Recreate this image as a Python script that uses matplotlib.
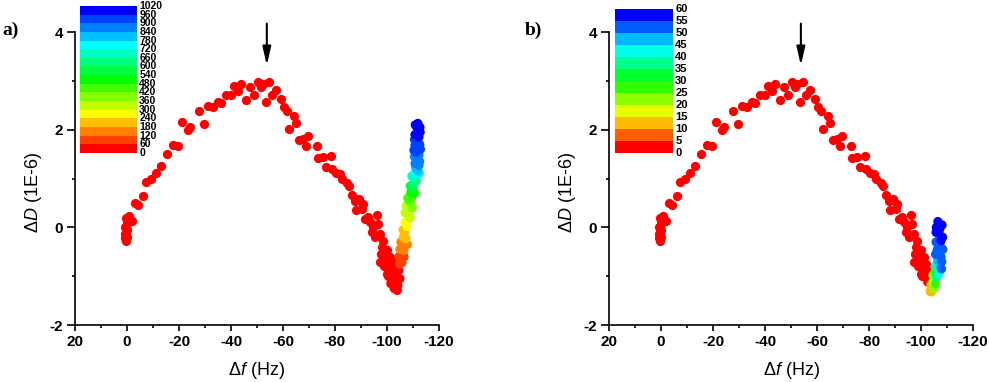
"""
Dissipation versus frequency shift, two panels with a time colour scale.
Red points are the early part of the run, the coloured branch is the later part.
"""

import numpy as np
import matplotlib
matplotlib.use('Agg')
import matplotlib.pyplot as plt
from matplotlib.colors import ListedColormap, BoundaryNorm, hsv_to_rgb
from matplotlib.ticker import MultipleLocator

# Early part of the curve, same in both panels (drawn red)
ARC_DF = [0.4, 0.6, 0.12, 0.77, 0.3, 0.12, 0.5, 0.77, -0.12, 0.12, -1.9, -0.65, 0.2,
          -3.1, -4.2, -6.15, -7.3, -9.35, -11.15, -13.1, -15.3, -17.6, -19.5, -21.0,
          -23.6, -24.2, -27.7, -29.7, -31.3, -33.0, -35.1, -36.0, -38.0, -39.9, -41.3,
          -42.8, -43.8, -45.8, -47.3, -48.8, -50.3, -51.5, -52.4, -53.6, -54.6,
          -55.8, -57.2, -59.2, -60.5, -61.4, -62.3, -64.3, -65.1, -66.2, -67.8, -68.8,
          -69.5, -73.0, -73.3, -75.3, -76.7, -78.3, -78.8, -80.4, -81.9, -82.8, -84.5,
          -85.3, -86.7, -87.6, -88.2, -89.4, -90.3, -90.9, -91.5, -92.8, -93.5, -94.1,
          -94.7, -96.0, -96.7, -97.3, -98.0, -98.6, -99.2, -99.9, -99.9, -100.5, -101.2,
          -101.8, -102.4, -95.5, -97.8, -100.8, -102.0, -99.0, -97.5, -100.5]
ARC_DD = [-0.27, -0.22, -0.2, -0.13, -0.1, -0.06, 0.0, 0.01, 0.08, 0.14, 0.14, 0.23, 0.2,
          0.51, 0.45, 0.64, 0.94, 1.0, 1.12, 1.25, 1.5, 1.69, 1.67, 2.16,
          2.0, 2.05, 2.38, 2.11, 2.48, 2.46, 2.56, 2.54, 2.71, 2.72, 2.89,
          2.80, 2.93, 2.61, 2.87, 2.72, 2.97, 2.88, 2.93, 2.56, 2.97,
          2.71, 2.81, 2.62, 2.47, 2.38, 2.02, 2.28, 2.13, 1.78, 1.81, 1.66,
          1.87, 1.67, 1.43, 1.44, 1.24, 1.46, 1.2, 1.11, 1.09, 0.99, 0.91,
          0.85, 0.66, 0.55, 0.35, 0.59, 0.38, 0.47, 0.18, 0.21, 0.11, -0.10,
          0.01, 0.26, 0.08, -0.13, -0.40, -0.27, -0.61, -0.47, -0.95, -0.81, -0.61,
          -1.02, -0.88, -0.2, -0.55, -0.72, -0.75, -0.8, -0.7, -1.0]

# Panel a: later branch, time 0-1020
A_DF = [-103.1, -103.7, -104.0, -102.6, -103.3, -104.3, -104.0, -103.0, -104.2, -105.0,
        -104.6, -102.8, -101.5,
        -105.8, -105.4, -106.5, -106.2, -107.3, -106.9, -107.7, -108.1, -108.5, -108.8,
        -109.2, -109.6, -109.2, -110.0, -110.4, -110.0, -110.8, -111.2, -110.8, -111.5,
        -111.2, -111.9, -111.5, -112.3, -111.9, -111.5, -111.9, -110.8, -112.3, -110.4,
        -112.3, -104.6, -105.4, -106.2, -107.0, -108.0, -112.5, -112.6, -110.8,
        -112.6, -110.6, -112.8, -110.9, -112.7, -110.6, -112.9, -111.0, -112.0,
        -108.6, -110.6, -109.0, -111.3, -109.6, -107.0, -108.9, -106.3, -107.8, -105.0,
        -106.6, -104.8, -107.5, -109.8]
A_DD = [-1.22, -1.09, -1.29, -1.12, -0.95, -1.05, -0.80, -0.70, -1.19, -1.05,
        -0.88, -1.25, -1.15,
        -0.72, -0.57, -0.47, -0.33, -0.23, -0.10, 0.02, 0.14, 0.27, 0.39,
        0.49, 0.62, 0.72, 0.82, 0.92, 1.03, 1.11, 1.21, 1.31, 1.42,
        1.54, 1.64, 1.74, 1.85, 1.95, 2.05, 2.13, 1.68, 1.48, 1.58,
        1.27, -0.6, -0.3, -0.05, 0.3, 0.6, 1.1, 1.7, 1.9,
        1.35, 1.45, 1.95, 2.1, 2.05, 1.8, 1.6, 1.25, 1.15,
        0.55, 0.7, 0.85, 0.95, 1.05, 0.1, 0.2, -0.2, -0.35, -0.45,
        -0.6, -0.75, 0.45, 0.4]
A_TIME = [15, 20, 25, 10, 15, 30, 40, 35, 30, 50,
          58, 20, 10,
          90, 110, 130, 160, 190, 220, 250, 280, 310, 350,
          400, 450, 500, 560, 620, 680, 740, 800, 850, 880,
          900, 920, 940, 960, 975, 990, 1005, 930, 890, 910,
          860, 100, 170, 230, 320, 430, 760, 945, 970,
          870, 895, 980, 1000, 995, 950, 925, 830, 790,
          420, 520, 580, 640, 700, 265, 300, 200, 175, 120,
          95, 75, 340, 370]

# Panel b: later branch, time 0-60
B_DF = [-102.6, -103.3, -102.0,
        -103.5, -104.2, -103.8, -104.6, -105.0, -104.6, -105.4, -105.4, -105.8, -105.4,
        -106.2, -106.2, -106.5, -106.2, -106.9, -106.5, -107.3, -106.9, -107.3, -106.9,
        -107.3, -106.9, -106.5, -107.7, -106.2, -107.7, -107.3, -105.8, -105.8,
        -108.3, -108.1, -105.9, -108.4, -105.6, -108.0, -107.9, -106.9, -106.0, -105.5,
        -104.0, -105.0, -107.3]
B_DD = [-1.12, -0.95, -1.0,
        -1.31, -1.23, -1.17, -1.11, -1.05, -0.98, -0.98, -0.92, -0.86, -0.80,
        -0.80, -0.74, -0.68, -0.59, -0.51, -0.43, -0.35, -0.27, -0.18, -0.10,
        -0.02, 0.06, 0.12, -0.27, -0.47, -0.6, 0.0, -0.3, -0.1,
        -0.2, 0.05, 0.0, -0.45, -0.55, -0.7, -0.85, -0.95, -1.02, -1.15,
        -1.32, -1.25, -0.78]
B_TIME = [3, 4, 4,
          11, 13, 14, 17, 19, 22, 24, 27, 31, 36,
          39, 42, 45, 47, 49, 51, 52, 53, 54, 55,
          56, 58, 59, 55, 50, 53, 57, 52, 57,
          56, 58, 57, 54, 51, 52, 50, 44, 38, 28,
          12, 20, 48]

A_LEVELS = [0, 60, 120, 180, 240, 300, 360, 420, 480, 540, 600, 660, 720, 780, 840,
            900, 960, 1020]
B_LEVELS = [0, 5, 10, 15, 20, 25, 30, 35, 40, 45, 50, 55, 60]

X_TICKS = [20, 0, -20, -40, -60, -80, -100, -120]
Y_TICKS = [-2, 0, 2, 4]

# Arrow marking the top of the arc
ARROW_DF = -53.8
ARROW_TOP = 4.23
ARROW_TIP = 3.26

plt.rcParams['font.family'] = 'Liberation Sans'
plt.rcParams['font.weight'] = 'bold'
plt.rcParams['axes.unicode_minus'] = False
plt.rcParams['mathtext.fontset'] = 'custom'
plt.rcParams['mathtext.rm'] = 'Liberation Sans:weight=normal'
plt.rcParams['mathtext.it'] = 'Liberation Sans:style=italic:weight=normal'
plt.rcParams['mathtext.bf'] = 'Liberation Sans:weight=normal'


def band_colours(n):
    """Rainbow bands from red to blue, like the Origin colour map."""
    hsv = [[0.6667 * i / (n - 1), 1.0, 1.0] for i in range(n)]
    return hsv_to_rgb(np.array(hsv))


def draw_panel(fig, rect, bar_rect, df, dd, time, levels, letter, letter_x, bar_size):
    cmap = ListedColormap(band_colours(len(levels) - 1))
    norm = BoundaryNorm(levels, cmap.N)

    ax = fig.add_axes(rect)
    ax.scatter(ARC_DF, ARC_DD, s=44, color=cmap(0), linewidths=0, zorder=2)

    # Draw later points on top
    df, dd, time = np.array(df), np.array(dd), np.array(time)
    order = np.argsort(time)
    ax.scatter(df[order], dd[order], c=time[order], cmap=cmap, norm=norm,
               s=44, linewidths=0, zorder=3)

    ax.annotate('', xy=(ARROW_DF, ARROW_TIP), xytext=(ARROW_DF, ARROW_TOP),
                arrowprops=dict(arrowstyle='-|>,head_width=0.25,head_length=1.1',
                                color='black', lw=1.5, mutation_scale=10),
                annotation_clip=False)

    ax.set_xlim(20, -120)
    ax.set_ylim(-2, 4)
    ax.set_xticks(X_TICKS)
    ax.set_yticks(Y_TICKS)
    ax.xaxis.set_minor_locator(MultipleLocator(10))
    ax.yaxis.set_minor_locator(MultipleLocator(1))
    ax.spines['top'].set_visible(False)
    ax.spines['right'].set_visible(False)
    for side in ['left', 'bottom']:
        ax.spines[side].set_linewidth(1.2)
    ax.tick_params(axis='x', which='major', direction='out', length=4, width=1.2, pad=3,
                   labelsize=11)
    ax.tick_params(axis='y', which='major', direction='out', length=5.5, width=1.2, pad=3,
                   labelsize=11)
    ax.tick_params(which='minor', direction='out', length=2.5, width=1.2)

    ax.set_xlabel(r'$\Delta f$ (Hz)', fontsize=13, fontweight='normal', labelpad=8)
    ax.set_ylabel(r'$\Delta D$ (1E-6)', fontsize=13, fontweight='normal')
    ax.yaxis.set_label_coords(-0.085, 0.454)

    fig.text(letter_x, 0.92, letter, fontsize=14, fontweight='bold',
             family='Liberation Serif', va='center')

    # Colour scale legend
    cax = fig.add_axes(bar_rect)
    cax.pcolormesh([0, 1], levels, np.array(levels[:-1]).reshape(-1, 1),
                   cmap=cmap, norm=norm)
    cax.set_xlim(0, 1)
    cax.set_ylim(levels[0], levels[-1])
    cax.axis('off')
    for lv in levels:
        cax.text(1.04, lv, str(lv), transform=cax.get_yaxis_transform(),
                 fontsize=bar_size, fontweight='bold', va='center', ha='left')
    return ax


if __name__ == "__main__":
    fig = plt.figure(figsize=(9.89, 3.82), dpi=100)

    draw_panel(fig, [0.0758, 0.149, 0.368, 0.767], [0.0809, 0.5995, 0.0576, 0.385],
               A_DF, A_DD, A_TIME, A_LEVELS, 'a)', 0.002, 7.5)
    draw_panel(fig, [0.6158, 0.149, 0.368, 0.767], [0.6218, 0.5995, 0.0586, 0.3757],
               B_DF, B_DD, B_TIME, B_LEVELS, 'b)', 0.531, 8)

    fig.savefig('out.png', dpi=100)
